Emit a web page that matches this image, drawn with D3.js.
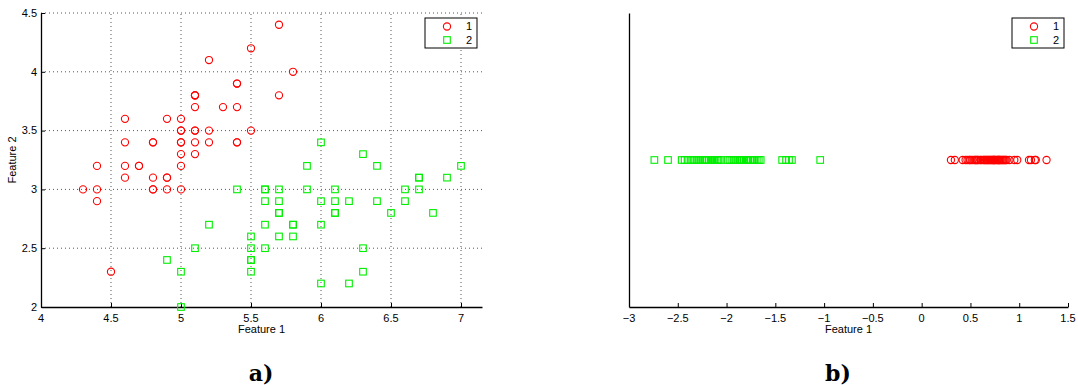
<!DOCTYPE html>
<html>
<head>
<meta charset="utf-8">
<script src="https://cdn.jsdelivr.net/npm/d3@7/dist/d3.min.js"></script>
<style>
  html, body { margin: 0; padding: 0; background: #fff; }
  svg { display: block; }
  text { font-family: "Liberation Sans", Arial, Helvetica, sans-serif; fill: #000; }
</style>
</head>
<body>
<svg id="fig" width="1078" height="385"></svg>
<script>
// Class 1 (sepal length, sepal width)
const class1X = [5.1,4.9,4.7,4.6,5.0,5.4,4.6,5.0,4.4,4.9,5.4,4.8,4.8,4.3,5.8,5.7,5.4,5.1,5.7,5.1,5.4,5.1,4.6,5.1,4.8,5.0,5.0,5.2,5.2,4.7,4.8,5.4,5.2,5.5,4.9,5.0,5.5,4.9,4.4,5.1,5.0,4.5,4.4,5.0,5.1,4.8,5.1,4.6,5.3,5.0];
const class1Y = [3.5,3.0,3.2,3.1,3.6,3.9,3.4,3.4,2.9,3.1,3.7,3.4,3.0,3.0,4.0,4.4,3.9,3.5,3.8,3.8,3.4,3.7,3.6,3.3,3.4,3.0,3.4,3.5,3.4,3.2,3.1,3.4,4.1,4.2,3.1,3.2,3.5,3.6,3.0,3.4,3.5,2.3,3.2,3.5,3.8,3.0,3.8,3.2,3.7,3.3];
// Class 2 (sepal length, sepal width)
const class2X = [7.0,6.4,6.9,5.5,6.5,5.7,6.3,4.9,6.6,5.2,5.0,5.9,6.0,6.1,5.6,6.7,5.6,5.8,6.2,5.6,5.9,6.1,6.3,6.1,6.4,6.6,6.8,6.7,6.0,5.7,5.5,5.5,5.8,6.0,5.4,6.0,6.7,6.3,5.6,5.5,5.5,6.1,5.8,5.0,5.6,5.7,5.7,6.2,5.1,5.7];
const class2Y = [3.2,3.2,3.1,2.3,2.8,2.8,3.3,2.4,2.9,2.7,2.0,3.0,2.2,2.9,2.9,3.1,3.0,2.7,2.2,2.5,3.2,2.8,2.5,2.8,2.9,3.0,2.8,3.0,2.9,2.6,2.4,2.4,2.7,2.7,3.0,3.4,3.1,2.3,3.0,2.5,2.6,3.0,2.6,2.3,2.7,3.0,2.9,2.9,2.5,2.8];

// One-dimensional projection onto Feature 1
const proj1 = [0.30,0.34,0.42,0.45,0.47,0.49,0.50,0.52,0.54,0.55,0.57,0.58,0.60,0.61,0.63,0.64,0.65,0.66,0.68,0.69,0.70,0.71,0.72,0.73,0.74,0.75,0.76,0.77,0.78,0.79,0.80,0.81,0.82,0.83,0.84,0.85,0.86,0.87,0.56,0.67,0.74,0.79,0.90,0.95,0.98,1.10,1.12,1.16,1.17,1.28];
const proj2 = [-2.74,-2.60,-2.46,-2.43,-2.40,-2.37,-2.35,-2.33,-2.31,-2.29,-2.27,-2.25,-2.23,-2.22,-2.20,-2.18,-2.16,-2.14,-2.12,-2.10,-2.08,-2.06,-1.99,-1.97,-1.95,-1.93,-1.91,-1.89,-1.87,-1.85,-1.84,-1.82,-1.80,-1.78,-1.76,-1.75,-1.73,-1.71,-1.69,-1.67,-1.65,-2.21,-2.09,-1.86,-1.79,-1.43,-1.39,-1.36,-1.33,-1.04];

// Tick labels
const ticksAX = [4, 4.5, 5, 5.5, 6, 6.5, 7];
const ticksAY = [2, 2.5, 3, 3.5, 4, 4.5];
const ticksBX = [-3, -2.5, -2, -1.5, -1, -0.5, 0, 0.5, 1, 1.5];
const legendLabels = ["1", "2"];

const RED = "#ff0000", GREEN = "#00ee00";
const svg = d3.select("#fig");

function circleMarks(g, xs, ys, sx, sy) {
  g.selectAll(null).data(xs).enter().append("circle")
    .attr("cx", (d) => sx(d))
    .attr("cy", (d, i) => sy(ys[i]))
    .attr("r", 3.6)
    .attr("fill", "none").attr("stroke", RED).attr("stroke-width", 1.1);
}
function squareMarks(g, xs, ys, sx, sy) {
  g.selectAll(null).data(xs).enter().append("rect")
    .attr("x", (d) => sx(d) - 3.3)
    .attr("y", (d, i) => sy(ys[i]) - 3.3)
    .attr("width", 6.6).attr("height", 6.6)
    .attr("fill", "none").attr("stroke", GREEN).attr("stroke-width", 1.1);
}
function legend(g, x0, y0) {
  const w = 52, h = 30;
  g.append("rect").attr("x", x0).attr("y", y0).attr("width", w).attr("height", h)
    .attr("fill", "#fff").attr("stroke", "#000").attr("stroke-width", 1);
  g.append("circle").attr("cx", x0 + 22).attr("cy", y0 + 8.5).attr("r", 3.6)
    .attr("fill", "none").attr("stroke", RED).attr("stroke-width", 1.1);
  g.append("rect").attr("x", x0 + 22 - 3.3).attr("y", y0 + 22 - 3.3).attr("width", 6.6).attr("height", 6.6)
    .attr("fill", "none").attr("stroke", GREEN).attr("stroke-width", 1.1);
  legendLabels.forEach((t, i) => {
    g.append("text").attr("x", x0 + 47).attr("y", y0 + 8.5 + i * 13.5)
      .attr("dy", "0.35em").attr("text-anchor", "end").attr("font-size", 11).text(t);
  });
}
const fmt = (d) => String(d).replace("-", "\u2212");

// ---------- Panel a) ----------
const ax = d3.scaleLinear().domain([4, 7.15]).range([41, 482]);
const ay = d3.scaleLinear().domain([2, 4.5]).range([307, 13]);
const ga = svg.append("g");

// dotted grid
ga.selectAll(null).data(ticksAX.slice(1)).enter().append("line")
  .attr("x1", (d) => ax(d)).attr("x2", (d) => ax(d)).attr("y1", ay(2)).attr("y2", ay(4.5))
  .attr("stroke", "#555").attr("stroke-width", 1).attr("stroke-dasharray", "1,3");
ga.selectAll(null).data(ticksAY.slice(1)).enter().append("line")
  .attr("y1", (d) => ay(d)).attr("y2", (d) => ay(d)).attr("x1", ax(4)).attr("x2", ax(7.15))
  .attr("stroke", "#555").attr("stroke-width", 1).attr("stroke-dasharray", "1,3");

const axA = ga.append("g").attr("transform", `translate(0,${ay(2)})`)
  .call(d3.axisTop(ax).tickValues(ticksAX).tickSize(4).tickSizeOuter(0).tickFormat(""));
ga.selectAll(null).data(ticksAX).enter().append("text")
  .attr("x", (d) => ax(d)).attr("y", ay(2) + 11).attr("dy", "0.35em")
  .attr("text-anchor", "middle").attr("font-size", 11).text(fmt);
const ayA = ga.append("g").attr("transform", `translate(${ax(4)},0)`)
  .call(d3.axisRight(ay).tickValues(ticksAY).tickSize(4).tickSizeOuter(0).tickFormat(""));
ga.selectAll(null).data(ticksAY).enter().append("text")
  .attr("x", ax(4) - 4).attr("y", (d) => ay(d)).attr("dy", "0.35em")
  .attr("text-anchor", "end").attr("font-size", 11).text(fmt);
[axA, ayA].forEach((s) => {
  s.select(".domain").attr("stroke", "#000").attr("stroke-width", 1.3);
  s.selectAll(".tick line").attr("stroke", "#000");
});
// left axis extended slightly below 2 like the bottom/left corner
circleMarks(ga, class1X, class1Y, ax, ay);
squareMarks(ga, class2X, class2Y, ax, ay);
legend(ga, 425, 18);

ga.append("text").attr("x", (ax(4) + ax(7.15)) / 2).attr("y", 329).attr("dy", "0.35em")
  .attr("text-anchor", "middle").attr("font-size", 11).text("Feature 1");
ga.append("text").attr("transform", `translate(12,${(ay(2) + ay(4.5)) / 2}) rotate(-90)`)
  .attr("dy", "0.35em").attr("text-anchor", "middle").attr("font-size", 11).text("Feature 2");
ga.append("text").attr("x", 261).attr("y", 373).attr("dy", "0.35em")
  .attr("text-anchor", "middle").attr("font-size", 22).attr("font-weight", "bold")
  .style("font-family", "'DejaVu Serif', 'Liberation Serif', serif").text("a)");

// ---------- Panel b) ----------
const bx = d3.scaleLinear().domain([-3, 1.5]).range([629, 1068]);
const by = d3.scaleLinear().domain([-1, 1]).range([307, 13]);
const gb = svg.append("g");

const axB = gb.append("g").attr("transform", `translate(0,${by(-1)})`)
  .call(d3.axisTop(bx).tickValues(ticksBX).tickSize(4).tickSizeOuter(0).tickFormat(""));
gb.selectAll(null).data(ticksBX).enter().append("text")
  .attr("x", (d) => bx(d)).attr("y", by(-1) + 11).attr("dy", "0.35em")
  .attr("text-anchor", "middle").attr("font-size", 11).text(fmt);
const ayB = gb.append("g").attr("transform", `translate(${bx(-3)},0)`)
  .call(d3.axisRight(by).tickValues([]).tickSizeOuter(0));
[axB, ayB].forEach((s) => {
  s.select(".domain").attr("stroke", "#000").attr("stroke-width", 1.3);
  s.selectAll(".tick line").attr("stroke", "#000");
});
const zeros1 = proj1.map(() => 0), zeros2 = proj2.map(() => 0);
circleMarks(gb, proj1, zeros1, bx, by);
squareMarks(gb, proj2, zeros2, bx, by);
legend(gb, 1012, 18);

gb.append("text").attr("x", (bx(-3) + bx(1.5)) / 2).attr("y", 329).attr("dy", "0.35em")
  .attr("text-anchor", "middle").attr("font-size", 11).text("Feature 1");
gb.append("text").attr("x", 838).attr("y", 373).attr("dy", "0.35em")
  .attr("text-anchor", "middle").attr("font-size", 22).attr("font-weight", "bold")
  .style("font-family", "'DejaVu Serif', 'Liberation Serif', serif").text("b)");
</script>
</body>
</html>
